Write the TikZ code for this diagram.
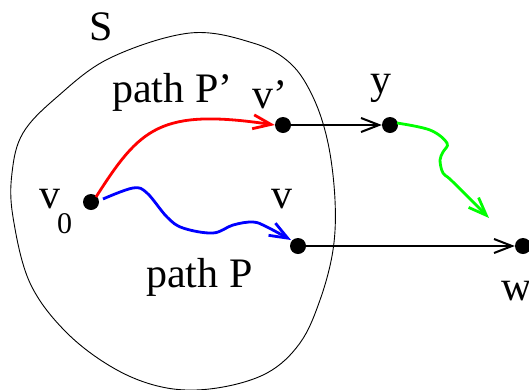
\documentclass[tikz,border=0pt]{standalone}
\usepackage{fontspec}
\setmainfont{Liberation Serif}
\usetikzlibrary{arrows.meta}
\begin{document}
\begin{tikzpicture}[x=1pt,y=-1pt,
  dot/.style={circle,fill=black,inner sep=0pt,minimum size=16pt},
  lbl/.style={anchor=base west,inner sep=0pt,font=\fontsize{42}{42}\selectfont},
  sublbl/.style={anchor=base west,inner sep=0pt,font=\fontsize{30}{30}\selectfont},
  tip/.style={-{Straight Barb[length=18pt,width=14pt,line width=2pt]}},
  blackarrow/.style={tip,line width=1.5pt},
  colpath/.style={line width=2.8pt,-{Straight Barb[length=18pt,width=14pt]}}]
\useasboundingbox (0,0) rectangle (529,389);
% set S boundary
\draw[line width=0.9pt] plot[smooth cycle,tension=0.6] coordinates {
 (57,97) (110,58) (190,33) (253,43) (290,63) (313,97) (328,143) (335,200)
 (333,250) (320,300) (300,343) (267,373) (217,388) (167,388) (117,370)
 (67,333) (30,283) (13,217) (12,173) (23,133)};
% dots
\node[dot] (v0) at (91,202) {};
\node[dot] (vp) at (283,125) {};
\node[dot] (y) at (390,125) {};
\node[dot] (v) at (298,246) {};
\node[dot] (w) at (523,246) {};
\coordinate (gend) at (489,218);
% labels
\node[lbl] (S) at (89,40) {S};
\node[lbl] (pP) at (112,102) {path P’};
\node[lbl] (lvp) at (252,108) {v’};
\node[lbl] (ly) at (370,93) {y};
\node[lbl] (lv) at (271,208) {v};
\node[lbl] (lv0) at (39,208) {v};
\node[sublbl] (l0) at (57,233) {0};
\node[lbl] (pathP) at (146,287) {path P};
\node[lbl] (lw) at (501,300) {w};
% black arrows
\draw[blackarrow] (vp) -- (y);
\draw[blackarrow] (v) -- (w);
% red path
\draw[colpath,red] (v0.center) ++(5,-5) .. controls (140,128) and (160,108) .. (vp.west);
% blue path
\draw[colpath,blue] plot[smooth,tension=0.6] coordinates {
 (103,199) (133,188) (147,193) (167,217) (183,228) (213,233) (233,225)
 (253,222) (267,227) (291,240)};
% green path
\draw[colpath,green] plot[smooth,tension=0.6] coordinates {
 (397,123) (430,130) (447,143) (443,152) (440,160) (443,173) (452,181) (489,218)};
\end{tikzpicture}
\end{document}
